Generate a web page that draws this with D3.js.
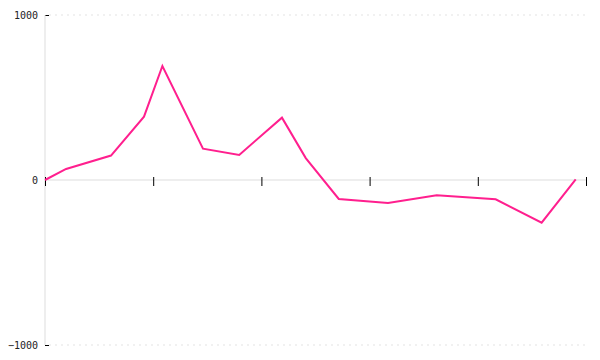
<!DOCTYPE html>
<html><head><meta charset="utf-8">
<script src="https://cdn.jsdelivr.net/npm/d3@7"></script>
<style>body{margin:0;background:#fff}svg{display:block}</style>
</head><body>
<svg id="c" width="600" height="360"></svg>
<script>
const xs = [0, 3.9, 12.2, 18.3, 21.7, 29.2, 35.9, 43.8, 48.2, 54.3, 63.4, 72.4, 83.3, 91.8, 98.1];
const ys = [0, 67, 148, 384, 691, 190, 152, 378, 133, -115, -139, -93, -117, -259, 4];
const xTicks = [0, 20, 40, 60, 80, 100];
const yTicks = [-1000, 0, 1000];

const svg = d3.select("#c");
const m = {l:45, r:14, t:15, b:15};
const W = 600, H = 360;
const x = d3.scaleLinear().domain([0,100]).range([m.l, W-m.r]);
const y = d3.scaleLinear().domain([-1000,1000]).range([H-m.b, m.t]);
const font = "DejaVu Sans Mono";

// gridlines at +/-1000
svg.append("g").selectAll("line").data([1000,-1000]).join("line")
  .attr("x1", m.l+4).attr("x2", W-m.r).attr("y1", d=>y(d)).attr("y2", d=>y(d))
  .attr("stroke", "#e3e3e3").attr("stroke-dasharray", "2,4");

// y axis
const ya = svg.append("g").attr("transform", `translate(${m.l},0)`)
  .call(d3.axisLeft(y).tickValues(yTicks).tickSize(6).tickPadding(1).tickFormat(d3.format("d")));
ya.select(".domain").remove();
ya.selectAll(".tick line").attr("stroke","#000").attr("x2", d => d===0 ? 0 : 4);
ya.selectAll(".tick text").attr("font-family", font).attr("font-size", 10).attr("fill","#222");
svg.append("line").attr("x1", m.l).attr("x2", m.l).attr("y1", m.t).attr("y2", H-m.b)
  .attr("stroke", "#ddd");

// x axis at zero
const xa = svg.append("g").attr("transform", `translate(0,${y(0)})`)
  .call(d3.axisBottom(x).tickValues(xTicks).tickSize(6).tickFormat(""));
xa.select(".domain").attr("stroke","#ddd").attr("d", `M${m.l},0H${W-m.r}`);
xa.selectAll(".tick line").attr("stroke","#000").attr("y1",-3).attr("y2",6);
xa.raise();

// line
const pts = xs.map((v,i)=>[v, ys[i]]);
svg.append("path").datum(pts)
  .attr("fill","none").attr("stroke","#ff1f8e").attr("stroke-width",2)
  .attr("stroke-linejoin","miter")
  .attr("d", d3.line().x(d=>x(d[0])).y(d=>y(d[1])));
</script>
</body></html>
